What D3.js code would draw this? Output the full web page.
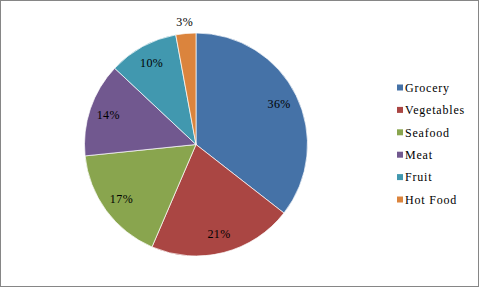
<!DOCTYPE html>
<html><head><meta charset="utf-8">
<script src="https://cdn.jsdelivr.net/npm/d3@7"></script>
<style>body{margin:0;background:#fff}svg{display:block}</style>
</head><body><svg id="c" width="480" height="288"></svg>
<script>
const categories = ["Grocery","Vegetables","Seafood","Meat","Fruit","Hot Food"];
const values = [35.5, 20.9, 16.9, 13.6, 10.1, 2.9];
const labels = ["36%","21%","17%","14%","10%","3%"];
const colors = ["#4572A7","#AA4643","#89A54E","#71588F","#4198AF","#DB843D"];

const svg = d3.select("#c");
svg.append("rect").attr("x",0.5).attr("y",0.5).attr("width",478).attr("height",286)
  .attr("fill","#fff").attr("stroke","#868686").attr("stroke-width",1);

const cx = 196, cy = 144.5, r = 111.5;
const pie = d3.pie().sort(null).value(d => d)(values);
const arc = d3.arc().innerRadius(0).outerRadius(r);
const g = svg.append("g").attr("transform",`translate(${cx},${cy})`);
g.selectAll("path").data(pie).join("path")
  .attr("d",arc).attr("fill",(d,i)=>colors[i])
  .attr("stroke","#fff").attr("stroke-width",0.7);

const lblArc = d3.arc().innerRadius(r*0.83).outerRadius(r*0.83);
const outArc = d3.arc().innerRadius(r+12).outerRadius(r+12);
g.selectAll("text.l").data(pie).join("text").attr("class","l")
  .attr("transform",(d,i)=>{
    const p = (values[i] < 5 ? outArc : lblArc).centroid(d);
    return `translate(${p[0]},${p[1]})`;
  })
  .attr("text-anchor","middle").attr("dy","0.35em")
  .attr("font-family","'Liberation Serif','Times New Roman',serif")
  .attr("font-size",12).attr("letter-spacing",0.4).attr("fill","#000")
  .text((d,i)=>labels[i]);

const leg = svg.append("g");
const ly = d3.scalePoint().domain(categories).range([87.5, 199.5]);
categories.forEach((c,i)=>{
  const y = ly(c);
  leg.append("rect").attr("x",397).attr("y",y-3).attr("width",6).attr("height",6).attr("fill",colors[i]);
  leg.append("text").attr("x",405).attr("y",y).attr("dy","0.35em")
    .attr("font-family","'Liberation Serif','Times New Roman',serif")
    .attr("font-size",12).attr("letter-spacing",0.8).attr("fill","#000").text(c);
});
</script></body></html>
